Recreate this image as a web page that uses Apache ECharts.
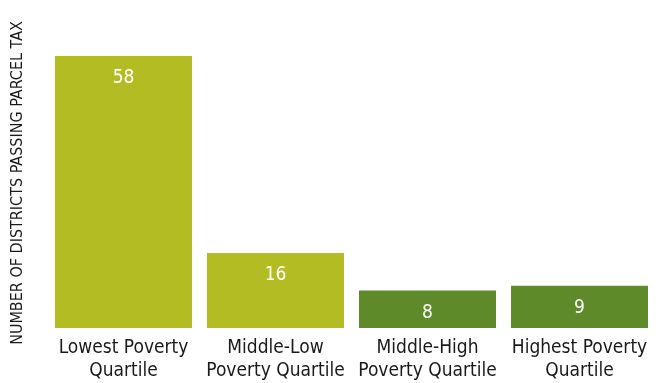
<!DOCTYPE html>
<html>
<head>
<meta charset="utf-8">
<script src="https://cdn.jsdelivr.net/npm/echarts@6/dist/echarts.min.js"></script>
<style>
  html, body { margin: 0; padding: 0; background: #fff; }
  #main { width: 665px; height: 383px; }
</style>
</head>
<body>
<div id="main"></div>
<script>
var categories = ['Lowest Poverty\nQuartile', 'Middle-Low\nPoverty Quartile', 'Middle-High\nPoverty Quartile', 'Highest Poverty\nQuartile'];
var values = [58, 16, 8, 9];
var barColors = ['#b3bc22', '#b3bc22', '#5e8a2a', '#5e8a2a'];
var axisTitle = 'NUMBER OF DISTRICTS PASSING PARCEL TAX';

var font = "'Liberation Sans Narrow', 'DejaVu Sans Condensed', Roboto, sans-serif";

var myChart = echarts.init(document.getElementById('main'));
var option = {
    animation: false,
    grid: { left: 47.5, right: 9.5, top: 56, bottom: 54 },
    xAxis: {
        type: 'category',
        data: categories,
        axisLine: { show: false },
        axisTick: { show: false },
        axisLabel: {
            color: '#1a1a1a',
            fontFamily: font,
            fontSize: 19,
            lineHeight: 23,
            margin: 9,
            interval: 0
        }
    },
    yAxis: {
        type: 'value',
        min: 0,
        max: 58,
        show: false
    },
    graphic: [{
        type: 'text',
        x: 18,
        y: 183,
        rotation: Math.PI / 2,
        style: {
            text: axisTitle,
            fontFamily: font,
            fontSize: 16,
            fill: '#1a1a1a',
            align: 'center',
            verticalAlign: 'middle'
        }
    }],
    series: [{
        type: 'bar',
        barWidth: 137,
        data: values.map(function (v, i) {
            return { value: v, itemStyle: { color: barColors[i] } };
        }),
        label: {
            show: true,
            position: 'insideTop',
            distance: 13,
            color: '#fff',
            fontFamily: font,
            fontSize: 19
        }
    }]
};
myChart.setOption(option);
</script>
</body>
</html>
